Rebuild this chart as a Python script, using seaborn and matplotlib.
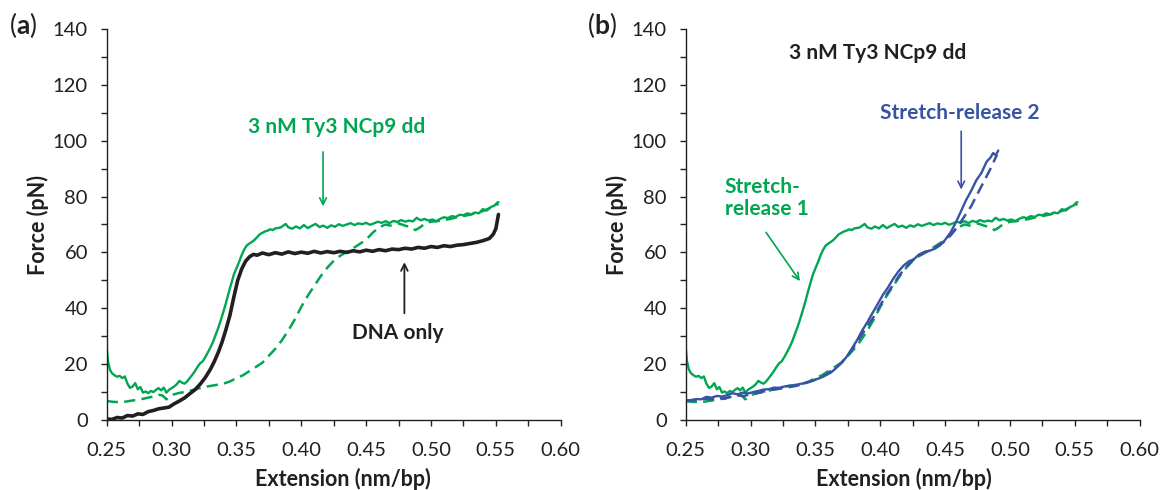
import numpy as np
import matplotlib
matplotlib.use("Agg")
import matplotlib.pyplot as plt
import seaborn as sns

# Stretch-release 1 with 3 nM Ty3 NCp9 dd: stretch (solid green)
x_s1 = [0.250, 0.251, 0.2525, 0.254, 0.256, 0.258, 0.260, 0.262, 0.264, 0.266,
        0.268, 0.270, 0.272, 0.274, 0.276, 0.278, 0.280, 0.282, 0.284, 0.286,
        0.288, 0.290, 0.292, 0.294, 0.296, 0.298, 0.300, 0.302, 0.304, 0.306,
        0.308, 0.310, 0.312, 0.314, 0.316, 0.318, 0.320, 0.322, 0.324, 0.326,
        0.328, 0.330, 0.332, 0.334, 0.336, 0.338, 0.340, 0.342, 0.344, 0.346,
        0.348, 0.350, 0.352, 0.354, 0.356, 0.358, 0.360, 0.362, 0.364, 0.366,
        0.368, 0.370, 0.372, 0.374, 0.376, 0.378, 0.380, 0.384, 0.388, 0.390,
        0.393, 0.396, 0.399, 0.402, 0.405, 0.408, 0.411, 0.414, 0.417, 0.420,
        0.423, 0.426, 0.429, 0.432, 0.435, 0.438, 0.441, 0.444, 0.447, 0.450,
        0.453, 0.456, 0.459, 0.462, 0.465, 0.468, 0.471, 0.474, 0.477, 0.480,
        0.483, 0.486, 0.489, 0.492, 0.495, 0.498, 0.501, 0.504, 0.507, 0.510,
        0.513, 0.516, 0.519, 0.522, 0.525, 0.528, 0.531, 0.534, 0.537, 0.540,
        0.543, 0.546, 0.549, 0.551, 0.552]
f_s1 = [26.0, 21.0, 18.0, 16.8, 16.0, 15.5, 15.8, 15.0, 15.6, 13.0,
        11.5, 12.0, 13.2, 11.0, 11.8, 9.8, 10.2, 9.6, 10.4, 10.0,
        10.8, 11.4, 10.6, 11.6, 9.8, 10.8, 11.4, 12.0, 12.8, 14.0,
        13.4, 13.0, 13.8, 15.0, 16.2, 17.5, 19.0, 20.3, 21.0, 22.5,
        24.2, 26.0, 28.0, 30.5, 33.0, 35.8, 38.8, 42.0, 45.5, 48.8,
        52.0, 54.3, 56.5, 59.0, 61.0, 62.5, 63.2, 63.8, 64.5, 65.5,
        66.5, 67.0, 67.5, 67.8, 68.3, 68.0, 68.6, 68.9, 70.2, 69.0,
        68.5, 69.3, 68.6, 69.8, 68.7, 69.5, 70.2, 69.1, 69.6, 68.8,
        69.7, 69.2, 70.1, 69.5, 70.0, 70.5, 69.8, 70.4, 70.1, 70.6,
        69.9, 70.4, 71.0, 70.6, 71.2, 70.5, 71.3, 70.9, 71.6, 71.0,
        71.4, 71.1, 72.4, 71.5, 72.0, 71.4, 71.8, 71.2, 72.0, 72.6,
        72.3, 73.0, 72.7, 73.5, 73.3, 74.0, 73.6, 74.3, 74.0, 75.5,
        75.0, 76.2, 76.8, 77.8, 78.0]

# Stretch-release 1: release (dashed green)
x_r1 = [0.250, 0.255, 0.260, 0.265, 0.270, 0.275, 0.280, 0.285, 0.290, 0.293,
        0.296, 0.299, 0.302, 0.305, 0.310, 0.315, 0.320, 0.325, 0.330, 0.335,
        0.340, 0.345, 0.350, 0.355, 0.360, 0.365, 0.370, 0.375, 0.380, 0.385,
        0.390, 0.395, 0.400, 0.405, 0.410, 0.415, 0.420, 0.425, 0.430, 0.435,
        0.440, 0.445, 0.450, 0.455, 0.460, 0.465, 0.470, 0.475, 0.480, 0.485,
        0.488, 0.491, 0.495, 0.500, 0.505, 0.510, 0.515, 0.520, 0.525, 0.530,
        0.535, 0.540, 0.545, 0.550, 0.552]
f_r1 = [6.8, 6.5, 6.4, 6.6, 7.0, 7.3, 7.8, 8.3, 9.0, 8.8,
        7.4, 8.5, 9.2, 9.6, 10.0, 10.6, 11.2, 11.8, 12.2, 12.6,
        13.0, 13.8, 15.0, 16.0, 17.5, 19.0, 20.5, 23.0, 25.5, 28.5,
        32.0, 36.0, 40.5, 44.5, 48.0, 51.5, 54.5, 57.0, 58.8, 60.2,
        61.5, 63.0, 64.6, 67.0, 69.0, 70.0, 69.5, 70.4, 69.6, 69.0,
        68.0, 68.8, 70.2, 71.0, 71.2, 71.6, 72.0, 72.6, 73.0, 73.5,
        74.2, 74.8, 75.8, 76.8, 77.5]

# DNA only, stretch and release overlapping (black)
x_dna = [0.250, 0.254, 0.258, 0.262, 0.266, 0.270, 0.274, 0.278, 0.282, 0.286,
         0.290, 0.294, 0.298, 0.302, 0.306, 0.310, 0.314, 0.318, 0.322, 0.326,
         0.330, 0.333, 0.336, 0.339, 0.342, 0.345, 0.348, 0.351, 0.354, 0.357,
         0.360, 0.363, 0.366, 0.370, 0.375, 0.380, 0.385, 0.390, 0.395, 0.400,
         0.405, 0.410, 0.415, 0.420, 0.425, 0.430, 0.435, 0.440, 0.445, 0.450,
         0.455, 0.460, 0.465, 0.470, 0.475, 0.480, 0.485, 0.490, 0.495, 0.500,
         0.505, 0.510, 0.515, 0.520, 0.525, 0.530, 0.535, 0.540, 0.545, 0.548,
         0.550, 0.551, 0.552]
f_dna = [0.4, 0.2, 0.9, 0.7, 1.6, 1.4, 2.2, 2.0, 3.0, 3.4,
         4.0, 4.3, 4.6, 5.8, 6.8, 7.9, 9.4, 10.8, 12.8, 15.2,
         18.2, 21.0, 24.2, 28.0, 32.5, 37.5, 44.0, 50.0, 54.0, 56.8,
         58.4, 59.3, 59.0, 59.8, 59.2, 59.9, 59.4, 60.2, 59.6, 60.1,
         59.7, 60.4, 59.8, 60.3, 59.9, 60.4, 60.0, 60.6, 60.2, 60.8,
         60.4, 61.0, 60.6, 61.2, 61.0, 61.5, 61.2, 61.8, 61.5, 62.1,
         61.8, 62.4, 62.1, 62.6, 62.8, 63.2, 63.6, 64.2, 65.0, 66.5,
         68.5, 71.0, 73.6]

# Stretch-release 2: stretch (solid blue) and release (dashed blue)
x_s2 = [0.250, 0.254, 0.258, 0.262, 0.266, 0.270, 0.274, 0.278, 0.282, 0.286,
        0.290, 0.294, 0.298, 0.302, 0.306, 0.310, 0.314, 0.318, 0.322, 0.326,
        0.330, 0.334, 0.338, 0.342, 0.346, 0.350, 0.354, 0.358, 0.362, 0.366,
        0.370, 0.374, 0.378, 0.382, 0.386, 0.390, 0.394, 0.398, 0.402, 0.406,
        0.410, 0.414, 0.418, 0.422, 0.426, 0.430, 0.434, 0.438, 0.442, 0.446,
        0.450, 0.454, 0.458, 0.462, 0.466, 0.470, 0.474, 0.478, 0.482, 0.485,
        0.487, 0.489, 0.491]
f_s2 = [7.1, 7.0, 7.5, 7.4, 8.3, 8.0, 8.6, 8.4, 8.9, 9.6,
        9.2, 9.8, 9.5, 10.0, 10.4, 10.9, 11.0, 11.6, 11.5, 12.0,
        12.3, 12.4, 12.9, 13.2, 13.8, 14.5, 15.1, 16.0, 17.0, 18.6,
        20.4, 22.6, 25.5, 28.5, 32.0, 35.0, 38.3, 41.5, 44.8, 47.5,
        50.6, 53.2, 55.3, 56.8, 57.6, 59.3, 60.2, 60.6, 61.3, 62.5,
        64.5, 67.0, 70.5, 74.5, 78.6, 82.0, 85.8, 88.5, 92.5, 94.0,
        95.6, 94.8, 96.5]
x_r2 = [0.250, 0.255, 0.260, 0.265, 0.270, 0.275, 0.280, 0.285, 0.290, 0.295,
        0.300, 0.305, 0.310, 0.315, 0.320, 0.325, 0.330, 0.335, 0.340, 0.345,
        0.350, 0.355, 0.360, 0.365, 0.370, 0.375, 0.380, 0.385, 0.390, 0.395,
        0.400, 0.405, 0.410, 0.415, 0.420, 0.425, 0.430, 0.435, 0.440, 0.445,
        0.450, 0.455, 0.460, 0.465, 0.470, 0.475, 0.480, 0.485, 0.490]
f_r2 = [6.8, 7.2, 7.0, 7.6, 7.4, 8.0, 7.6, 8.4, 8.8, 8.6,
        9.3, 9.6, 10.2, 10.8, 11.0, 11.4, 11.8, 12.2, 12.8, 13.6,
        14.4, 15.4, 16.8, 18.5, 20.5, 23.0, 26.5, 30.0, 33.5, 37.0,
        41.0, 45.0, 48.5, 52.0, 54.8, 57.2, 58.8, 60.0, 61.2, 62.6,
        64.0, 66.5, 69.5, 73.0, 76.5, 81.0, 85.5, 90.0, 95.0]

GREEN = "#00a651"
BLUE = "#3953a4"
BLACK = "#231f20"

sns.set_theme(style="ticks")
plt.rcParams["font.family"] = ["Lato", "DejaVu Sans"]
plt.rcParams["mathtext.fontset"] = "custom"
plt.rcParams["mathtext.rm"] = "Lato"
plt.rcParams["mathtext.bf"] = "Lato:bold"

fig = plt.figure(figsize=(11.62, 4.9), dpi=100)
ax_a = fig.add_axes([106.7 / 1162, 70 / 490, 454 / 1162, 391 / 490])
ax_b = fig.add_axes([685.7 / 1162, 70 / 490, 454 / 1162, 391 / 490])


def style_axes(ax, xlabel_pos):
    ax.set_xlim(0.25, 0.60)
    ax.set_ylim(0, 140)
    ax.set_xticks(np.arange(0.25, 0.601, 0.05))
    ax.set_xticklabels([f"{v:.2f}" for v in np.arange(0.25, 0.601, 0.05)])
    ax.set_xticks(np.arange(0.275, 0.6, 0.05), minor=True)
    ax.set_yticks(np.arange(0, 141, 20))
    ax.set_yticks(np.arange(10, 140, 20), minor=True)
    for side in ["top", "right"]:
        ax.spines[side].set_visible(False)
    for side in ["left", "bottom"]:
        ax.spines[side].set_linewidth(1.0)
        ax.spines[side].set_color(BLACK)
    ax.tick_params(which="both", direction="out", length=4.5, width=1.0,
                   color=BLACK, labelcolor=BLACK, labelsize=14.5)
    ax.tick_params(axis="x", which="both", pad=11)
    ax.tick_params(axis="y", which="both", pad=9)
    ax.set_xlabel("Extension (nm/bp)", fontsize=15.5, fontweight="bold",
                  color=BLACK)
    ax.xaxis.set_label_coords(xlabel_pos, -0.122)
    ax.set_ylabel("Force (pN)", fontsize=15.5, fontweight="bold", color=BLACK)
    ax.yaxis.set_label_coords(-0.127, 0.5)


def draw(ax, x, y, color, lw, ls="-"):
    sns.lineplot(x=x, y=y, ax=ax, color=color, linewidth=lw, linestyle=ls,
                 estimator=None, sort=False)


dash = (0, (4.5, 2.5))

# Panel (a)
draw(ax_a, x_r1, f_r1, GREEN, 1.8, dash)
draw(ax_a, x_s1, f_s1, GREEN, 1.7)
draw(ax_a, x_dna, f_dna, BLACK, 2.6)
style_axes(ax_a, 0.52)

ax_a.text(0.4275, 105.0, "3 nM Ty3 NCp9 dd", color=GREEN, fontsize=15,
          fontweight="bold", ha="center", va="center")
ax_a.annotate("", xy=(0.4168, 75.5), xytext=(0.4168, 97),
              arrowprops=dict(arrowstyle="->", color=GREEN, lw=1.2))
ax_a.text(0.4746, 31.0, "DNA only", color=BLACK, fontsize=15,
          fontweight="bold", ha="center", va="center")
ax_a.annotate("", xy=(0.4795, 57.5), xytext=(0.4795, 37.2),
              arrowprops=dict(arrowstyle="->", color=BLACK, lw=1.3))

# Panel (b)
draw(ax_b, x_r1, f_r1, GREEN, 1.8, dash)
draw(ax_b, x_s1, f_s1, GREEN, 1.7)
draw(ax_b, x_r2, f_r2, BLUE, 1.8, dash)
draw(ax_b, x_s2, f_s2, BLUE, 1.7)
style_axes(ax_b, 0.48)

ax_b.text(0.3979, 131.3, "3 nM Ty3 NCp9 dd", color=BLACK, fontsize=15,
          fontweight="bold", ha="center", va="center")
ax_b.text(0.461, 109.8, "Stretch-release 2", color=BLUE, fontsize=15,
          fontweight="bold", ha="center", va="center")
ax_b.annotate("", xy=(0.4624, 81.5), xytext=(0.4624, 104.4),
              arrowprops=dict(arrowstyle="->", color=BLUE, lw=1.2))
ax_b.text(0.2801, 79.5, "Stretch-\nrelease 1", color=GREEN, fontsize=15,
          fontweight="bold", ha="left", va="center", linespacing=1.15)
ax_b.annotate("", xy=(0.3393, 48.9), xytext=(0.3107, 68.0),
              arrowprops=dict(arrowstyle="->", color=GREEN, lw=1.2))

# Panel letters
fig.text(9 / 1162, 1 - 25 / 490, r"($\mathbf{a}$)", fontsize=19,
         color=BLACK, va="center", ha="left")
fig.text(587 / 1162, 1 - 25 / 490, r"($\mathbf{b}$)", fontsize=19,
         color=BLACK, va="center", ha="left")

fig.savefig("out.png", dpi=100)
